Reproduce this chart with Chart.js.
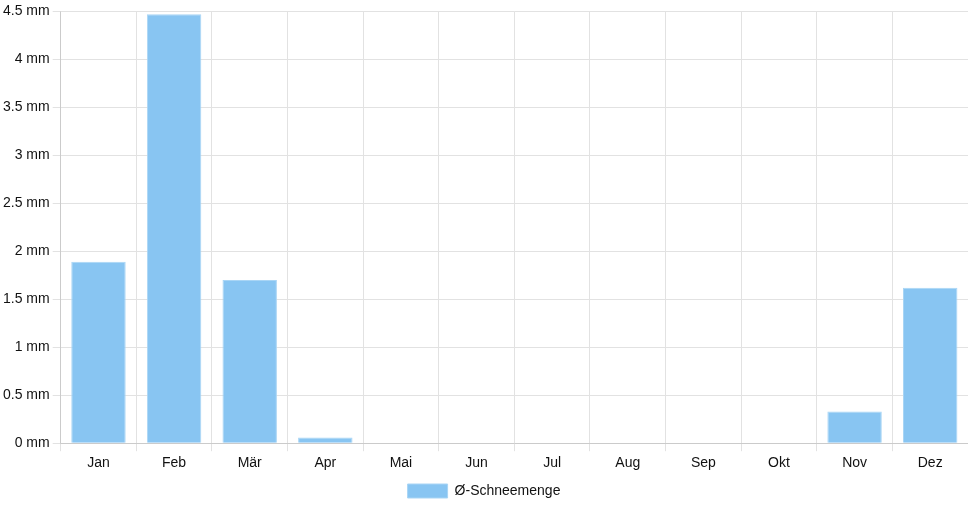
<!DOCTYPE html>
<html>
<head>
<meta charset="utf-8">
<script src="https://cdn.jsdelivr.net/npm/chart.js@4/dist/chart.umd.min.js"></script>
<style>
    html, body { margin: 0; padding: 0; background: #fff; }
    #wrap { width: 968px; height: 508px; }
</style>
</head>
<body>
<div id="wrap"><canvas id="chart"></canvas></div>
<script>
"use strict";

var months = ["Jan", "Feb", "Mär", "Apr", "Mai", "Jun", "Jul", "Aug", "Sep", "Okt", "Nov", "Dez"];
var snow = [1.89, 4.47, 1.70, 0.06, 0, 0, 0, 0, 0, 0, 0.33, 1.62];
var seriesLabel = "Ø-Schneemenge";

Chart.defaults.font.family = "'Liberation Sans', Arial, sans-serif";
Chart.defaults.font.size = 14;
Chart.defaults.color = "#111";

new Chart(document.getElementById("chart"), {
    type: "bar",
    data: {
        labels: months,
        datasets: [{
            label: seriesLabel,
            data: snow,
            backgroundColor: "#88c5f2",
            borderColor: "#a9d5f5",
            borderWidth: 1
        }]
    },
    options: {
        responsive: true,
        maintainAspectRatio: false,
        animation: false,
        layout: { padding: { top: 4, right: 0 } },
        plugins: {
            legend: {
                position: "bottom",
                labels: { boxWidth: 40, boxHeight: 14, padding: 8 }
            },
            tooltip: { enabled: false }
        },
        scales: {
            x: {
                grid: { color: "#e2e2e2" },
                ticks: { padding: 4 }
            },
            y: {
                min: 0,
                max: 4.5,
                grid: { color: "#e2e2e2" },
                ticks: {
                    stepSize: 0.5,
                    padding: 3,
                    callback: function (value) {
                        return value + " mm";
                    }
                }
            }
        }
    }
});
</script>
</body>
</html>
